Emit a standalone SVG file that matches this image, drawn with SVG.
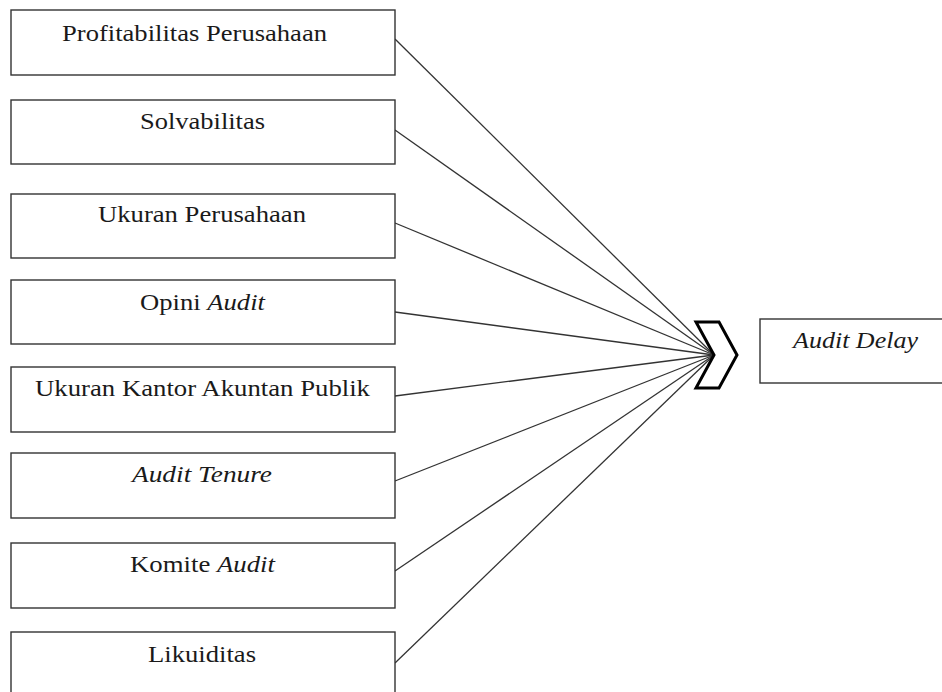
<svg xmlns="http://www.w3.org/2000/svg" width="942" height="692" viewBox="0 0 942 692">
<style>
.box{fill:#fff;stroke:#333;stroke-width:1.4}
.t{font-family:"Liberation Serif","Times New Roman",serif;font-size:23.5px;fill:#1a1a1a}
.i{font-style:italic}
.c{stroke:#333;stroke-width:1.3;fill:none}
</style>
<rect width="942" height="692" fill="#fff"/>
<g id="connectors">
<line class="c" x1="395" y1="39" x2="714" y2="355"/>
<line class="c" x1="395" y1="130" x2="714" y2="355"/>
<line class="c" x1="395" y1="223" x2="714" y2="355"/>
<line class="c" x1="395" y1="312" x2="714" y2="355"/>
<line class="c" x1="395" y1="396" x2="714" y2="355"/>
<line class="c" x1="395" y1="481" x2="714" y2="355"/>
<line class="c" x1="395" y1="571" x2="714" y2="355"/>
<line class="c" x1="395" y1="663" x2="714" y2="355"/>
</g>
<g id="chevron">
<polygon points="696,322 719,322 737,355 719,388 696,388 714,355" fill="#fff" stroke="#000" stroke-width="3" stroke-linejoin="miter"/>
</g>
<g id="n1"><rect class="box" x="11" y="10" width="384" height="65"/><text class="t" x="62" y="41" textLength="265" lengthAdjust="spacingAndGlyphs">Profitabilitas Perusahaan</text></g>
<g id="n2"><rect class="box" x="11" y="100" width="384" height="64"/><text class="t" x="140" y="129" textLength="125" lengthAdjust="spacingAndGlyphs">Solvabilitas</text></g>
<g id="n3"><rect class="box" x="11" y="194" width="384" height="64"/><text class="t" x="98" y="222" textLength="208" lengthAdjust="spacingAndGlyphs">Ukuran Perusahaan</text></g>
<g id="n4"><rect class="box" x="11" y="280" width="384" height="64"/><text class="t" x="140" y="310" textLength="125" lengthAdjust="spacingAndGlyphs">Opini <tspan class="i">Audit</tspan></text></g>
<g id="n5"><rect class="box" x="11" y="367" width="384" height="65"/><text class="t" x="35" y="396" textLength="335" lengthAdjust="spacingAndGlyphs">Ukuran Kantor Akuntan Publik</text></g>
<g id="n6"><rect class="box" x="11" y="453" width="384" height="65"/><text class="t i" x="132" y="482" textLength="140" lengthAdjust="spacingAndGlyphs">Audit Tenure</text></g>
<g id="n7"><rect class="box" x="11" y="543" width="384" height="65"/><text class="t" x="130" y="572" textLength="145" lengthAdjust="spacingAndGlyphs">Komite <tspan class="i">Audit</tspan></text></g>
<g id="n8"><rect class="box" x="11" y="632" width="384" height="70"/><text class="t" x="148" y="662" textLength="108" lengthAdjust="spacingAndGlyphs">Likuiditas</text></g>
<g id="n9"><rect class="box" x="760" y="319" width="200" height="64"/><text class="t i" x="793" y="348" textLength="125" lengthAdjust="spacingAndGlyphs">Audit Delay</text></g>
</svg>
